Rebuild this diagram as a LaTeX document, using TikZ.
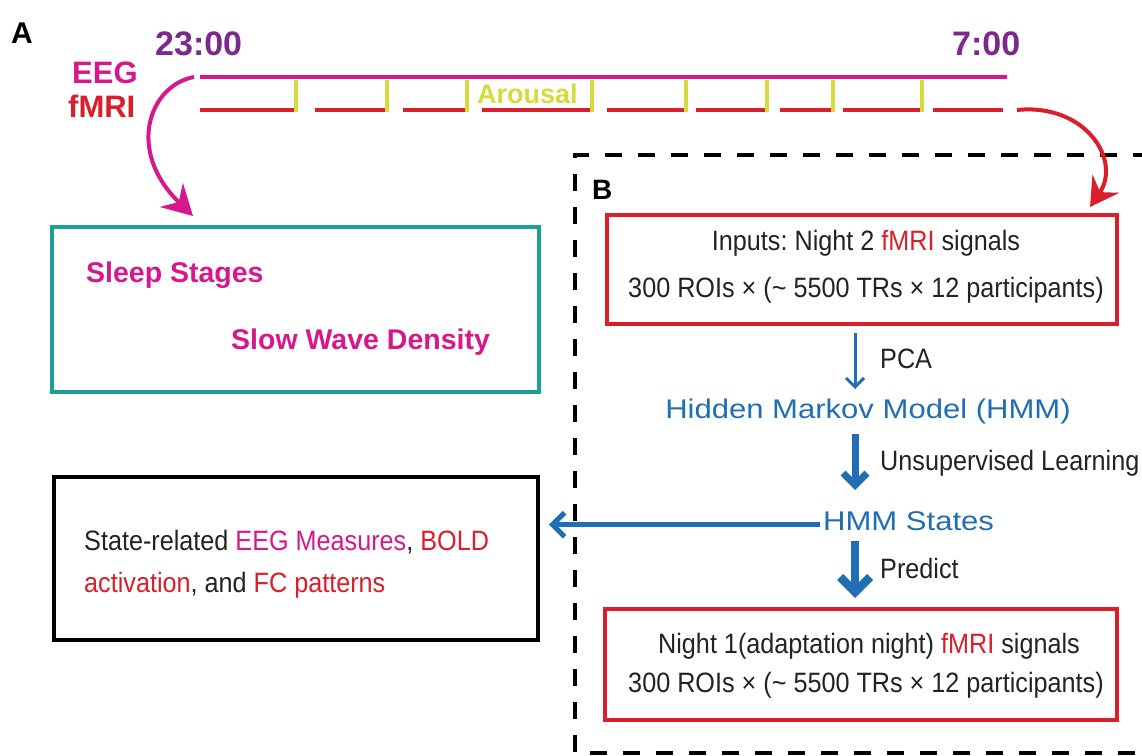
\documentclass[tikz,border=0pt]{standalone}
\usepackage{fontspec}
\setmainfont{Liberation Sans}
\newfontfamily\narrowf{Liberation Sans}[FakeStretch=0.9]
\newfontfamily\widef{Liberation Sans}[FakeStretch=1.15]
\usetikzlibrary{arrows.meta}
\definecolor{cmag}{RGB}{214,24,140}
\definecolor{cpur}{RGB}{125,40,140}
\definecolor{cred}{RGB}{218,30,42}
\definecolor{cyel}{RGB}{212,220,60}
\definecolor{cteal}{RGB}{28,160,150}
\definecolor{cblue}{RGB}{32,110,180}
\definecolor{ctxt}{RGB}{35,35,35}
\frenchspacing
\begin{document}
\begin{tikzpicture}[x=1pt,y=-1pt,
  boxline/.style={draw, line width=4pt, inner sep=0pt},
  body/.style={font=\narrowf\fontsize{28}{30}\selectfont, text=ctxt, inner sep=0pt, anchor=base},
  bluetxt/.style={font=\widef\fontsize{27}{30}\selectfont, text=cblue, inner sep=0pt, anchor=base},
  title/.style={font=\bfseries\fontsize{28}{30}\selectfont, inner sep=0pt, anchor=base west},
  timetxt/.style={font=\bfseries\fontsize{34}{36}\selectfont, text=cpur, inner sep=0pt, anchor=base west},
  sigtxt/.style={font=\bfseries\fontsize{31}{32}\selectfont, inner sep=0pt, anchor=base west},
  redseg/.style={draw=cred, line width=4pt},
  tick/.style={draw=cyel, line width=4pt},
  barrow/.style={draw=cblue, -{Straight Barb[length=#1, width=2*#1]}},
]
\useasboundingbox (0,0) rectangle (1142,755);
\fill[white] (0,0) rectangle (1142,755);

% ---------- panel A ----------
\node[title, font=\bfseries\fontsize{30}{32}\selectfont] (lblA) at (11,43) {A};
\node[timetxt] (t23) at (155,55) {23:00};
\node[timetxt] (t7) at (952,55) {7:00};
\node[sigtxt, text=cmag] (eeg) at (72,83) {EEG};
\node[sigtxt, text=cred] (fmri) at (68,117) {fMRI};

\coordinate (eegL) at (200,77);
\coordinate (eegR) at (1007,77);
\draw[cmag, line width=4pt] (eegL) -- (eegR);

% red fMRI segments with yellow arousal ticks
\foreach \a/\b in {200/296, 315/387, 403/467, 482/592, 607/686, 696/767, 780/833, 843/922, 933/1003}
  \draw[redseg] (\a,110) -- (\b,110);
\foreach \x in {296, 387, 467, 592, 686, 767, 833, 922}
  \draw[tick] (\x,80) -- (\x,112);
\node[font=\bfseries\fontsize{27}{28}\selectfont, text=cyel, inner sep=0pt, anchor=base west] (arousal) at (477,103) {Arousal};

% sleep measures box
\node[boxline, draw=cteal, minimum width=487pt, minimum height=165pt] (sleepbox) at (295.5,309.5) {};
\node[title, text=cmag, font=\bfseries\fontsize{28.5}{30}\selectfont] (stages) at (86,282) {Sleep Stages};
\node[title, text=cmag, font=\bfseries\fontsize{28.5}{30}\selectfont] (swd) at (231,349) {Slow Wave Density};

\coordinate (magstart) at (194,77);
\coordinate (magtip) at (193,216);
\draw[cmag, line width=4pt, -{Stealth[length=30pt, width=33pt, inset=10pt]}]
  (magstart) .. controls (150,85) and (125,150) .. (magtip);

% ---------- panel B ----------
\draw[black, line width=4pt, dash pattern=on 17pt off 16pt] (1150,155) -- (575,155) -- (575,753) -- (1150,753);
\node[title] (lblB) at (592,199) {B};

\node[boxline, draw=cred, minimum width=510pt, minimum height=109pt] (in1) at (862,269.5) {};
\node[body] (in1a) at (866,250) {Inputs: Night 2 {\color{cred}fMRI} signals};
\node[body] (in1b) at (866,297) {300 ROIs × (\textasciitilde\ 5500 TRs × 12 participants)};

\coordinate (redstart) at (1017,110);
\coordinate (redtip) at (1090,207);
\draw[cred, line width=4pt, -{Stealth[length=28pt, width=32pt, inset=10pt]}]
  (redstart) .. controls (1085,103) and (1122,160) .. (redtip);

\node[bluetxt] (hmm) at (868,418) {Hidden Markov Model (HMM)};
\node[bluetxt, anchor=base west] (states) at (823,530) {HMM States};

\node[body, anchor=base west] (lpca) at (880,368) {PCA};
\node[body, anchor=base west] (lunsup) at (880,470) {Unsupervised Learning};
\node[body, anchor=base west] (lpred) at (880,578) {Predict};

\coordinate (a1s) at (855,333);
\coordinate (a1e) at (855,389);
\coordinate (a2s) at (855,434);
\coordinate (a2e) at (855,490);
\coordinate (a3s) at (855,541);
\coordinate (a3e) at (855,598);
\draw[barrow=9pt, line width=3pt] (a1s) -- (a1e);
\draw[barrow=12pt, line width=7pt] (a2s) -- (a2e);
\draw[barrow=15pt, line width=8.5pt] (a3s) -- (a3e);

\node[boxline, draw=cred, minimum width=512pt, minimum height=111pt] (in2) at (861,664.5) {};
\node[body] (in2a) at (869,653) {Night 1(adaptation night) {\color{cred}fMRI} signals};
\node[body] (in2b) at (866,692) {300 ROIs × (\textasciitilde\ 5500 TRs × 12 participants)};

% result box
\node[boxline, draw=black, minimum width=484pt, minimum height=163pt] (outbox) at (296,558.5) {};
\node[body, anchor=base west] (out1) at (84,550) {State-related {\color{cmag}EEG Measures}, {\color{cred}BOLD}};
\node[body, anchor=base west] (out2) at (84,592) {{\color{cred}activation}, and {\color{cred}FC patterns}};

\coordinate (hmmout) at ([xshift=-3pt,yshift=-4pt]states.west);
\draw[barrow=12pt, line width=5pt, shorten >=9pt] (hmmout) -- (hmmout -| outbox.east);
\end{tikzpicture}
\end{document}
